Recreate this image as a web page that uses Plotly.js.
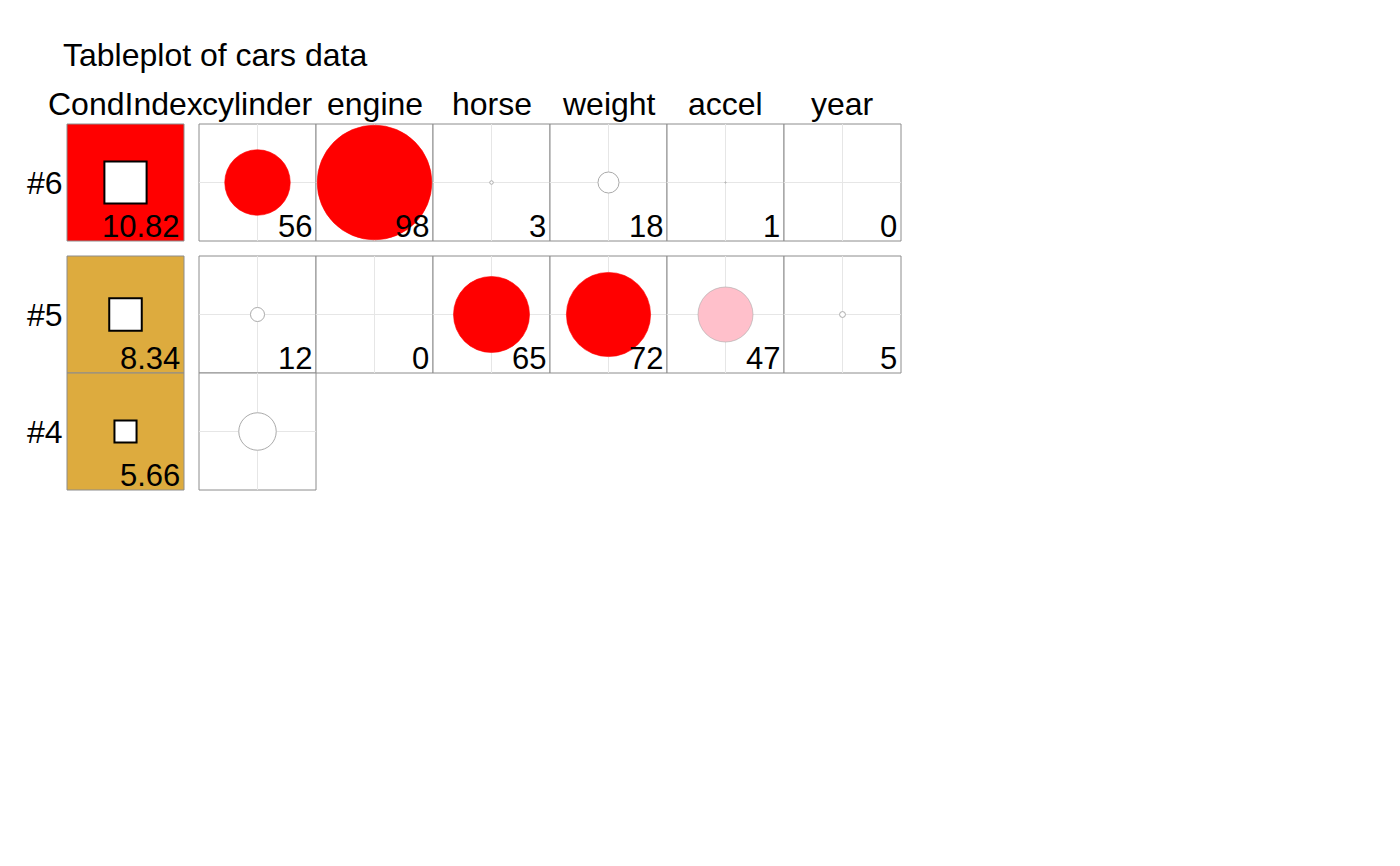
<!DOCTYPE html>
<html>
<head>
<meta charset="utf-8">
<script src="https://cdn.plot.ly/plotly-3.0.1.min.js"></script>
<style>html,body{margin:0;padding:0;background:#fff;}#chart{width:1400px;height:866px;}</style>
</head>
<body>
<div id="chart"></div>
<script>
// ---- data ----
const title = "Tableplot of cars data";
const rowLabels = ["#6", "#5", "#4"];
const condIndex = [10.82, 8.34, 5.66];
const varNames = ["cylinder", "engine", "horse", "weight", "accel", "year"];
// variance proportions (x100) for each row; null = not shown
const row6 = [56, 98, 3, 18, 1, 0];
const row5 = [12, 0, 65, 72, 47, 5];
const row4 = [32, null, null, null, null, null];
const propRows = [row6, row5, row4];
// gaps placed after these row indices
const gapAfter = [0];

// ---- styling rules ----
const FONT = "Liberation Sans, Arial, sans-serif";
const GAP = 15 / 117;            // gap between column/row groups, in cell units
function condColor(v) { return v > 10 ? "#FF0000" : (v > 5 ? "#DDAB3E" : "#A8F48D"); }
function propColor(v) { return v >= 50 ? "#FF0000" : (v >= 40 ? "#FFC0CB" : "#FFFFFF"); }

// ---- geometry in cell units ----
const rowTop = [];
let yy = 0;
rowLabels.forEach((r, i) => { rowTop.push(yy); yy += 1; if (gapAfter.includes(i)) yy += GAP; });
const colLeft = [0];
varNames.forEach((v, j) => colLeft.push(1 + GAP + j));

const shapes = [];
const annotations = [];
const cellLine = { color: "#8C8C8C", width: 1 };

// header labels
const headers = ["CondIndex"].concat(varNames);
headers.forEach((h, j) => {
  annotations.push({ x: colLeft[j] + 0.5, y: 0, xref: "x", yref: "y", text: h, showarrow: false,
    xanchor: "center", yanchor: "bottom", yshift: 0, font: { family: FONT, size: 32, color: "#000" } });
});

rowLabels.forEach((lab, i) => {
  const t = rowTop[i];
  annotations.push({ x: 0, y: t + 0.5, xref: "x", yref: "y", text: lab, showarrow: false,
    xanchor: "right", yanchor: "middle", xshift: -2, font: { family: FONT, size: 32, color: "#000" } });
  // condition index cell
  shapes.push({ type: "rect", xref: "x", yref: "y", x0: 0, x1: 1, y0: t, y1: t + 1,
    fillcolor: condColor(condIndex[i]), line: cellLine, layer: "below" });
  const s = condIndex[i] / 30;
  shapes.push({ type: "rect", xref: "x", yref: "y", x0: 0.5 - s / 2, x1: 0.5 + s / 2, y0: t + 0.5 - s / 2, y1: t + 0.5 + s / 2,
    fillcolor: "#FFFFFF", line: { color: "#000", width: 2 } });
  annotations.push({ x: 1, y: t + 1, xref: "x", yref: "y", text: condIndex[i].toFixed(2), showarrow: false,
    xanchor: "right", yanchor: "bottom", xshift: -2, yshift: -5, font: { family: FONT, size: 31, color: "#000" } });

  const vals = propRows[i];
  const complete = vals.every(v => v !== null);
  vals.forEach((v, j) => {
    if (v === null) return;
    const l = colLeft[j + 1];
    shapes.push({ type: "rect", xref: "x", yref: "y", x0: l, x1: l + 1, y0: t, y1: t + 1,
      fillcolor: "#FFFFFF", line: cellLine, layer: "below" });
    shapes.push({ type: "line", xref: "x", yref: "y", x0: l + 0.5, x1: l + 0.5, y0: t, y1: t + 1,
      line: { color: "#E6E6E6", width: 1 }, layer: "below" });
    shapes.push({ type: "line", xref: "x", yref: "y", x0: l, x1: l + 1, y0: t + 0.5, y1: t + 0.5,
      line: { color: "#E6E6E6", width: 1 }, layer: "below" });
    if (v > 0) {
      const r = v / 200;
      const fc = propColor(v);
      shapes.push({ type: "circle", xref: "x", yref: "y", x0: l + 0.5 - r, x1: l + 0.5 + r, y0: t + 0.5 - r, y1: t + 0.5 + r,
        fillcolor: fc, line: { color: fc === "#FF0000" ? "#FF0000" : "#AAAAAA", width: fc === "#FFFFFF" ? 1 : 0.6 } });
    }
    if (complete) {
      annotations.push({ x: l + 1, y: t + 1, xref: "x", yref: "y", text: String(v), showarrow: false,
        xanchor: "right", yanchor: "bottom", xshift: -2, yshift: -5, font: { family: FONT, size: 31, color: "#000" } });
    }
  });
});

const U = 117;
const layout = {
  width: 1400, height: 866,
  margin: { l: 0, r: 0, t: 0, b: 0 },
  paper_bgcolor: "#FFFFFF", plot_bgcolor: "#FFFFFF",
  showlegend: false,
  title: { text: title, x: 63 / 1400, xanchor: "left", xref: "paper", y: 1 - 55 / 866, yanchor: "middle", yref: "container",
    font: { family: FONT, size: 32, color: "#000" } },
  xaxis: { range: [-67 / U, (1400 - 67) / U], visible: false, fixedrange: true },
  yaxis: { range: [(866 - 124) / U, -124 / U], visible: false, fixedrange: true },
  shapes: shapes,
  annotations: annotations
};
Plotly.newPlot("chart", [], layout, { staticPlot: true, displayModeBar: false });
</script>
</body>
</html>
